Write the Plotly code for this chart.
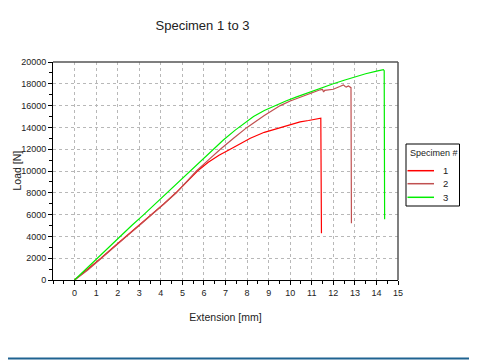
import plotly.graph_objects as go

# Specimen 1 (red)
ext1 = [0, 0.6, 1.22, 1.8, 2.4, 3.0, 3.58, 4.15, 4.7, 5.2, 5.7, 6.2, 6.7, 7.22, 7.7, 8.15, 8.8,
        9.54, 10.0, 10.46, 10.85, 11.23, 11.42, 11.45]
load1 = [0, 950, 2000, 3000, 4000, 5000, 6000, 7000, 8000, 9000, 10000, 10800, 11450, 12000, 12550,
         13000, 13550, 14000, 14280, 14500, 14630, 14750, 14850, 4300]

# Specimen 2 (brownish red)
ext2 = [0, 0.6, 1.24, 1.85, 2.41, 3.0, 3.6, 4.15, 4.72, 5.2, 5.65, 6.2, 6.76, 7.4, 8.0, 8.8, 9.54,
        10.0, 10.5, 10.95, 11.39, 11.5, 11.55, 11.6, 12.0, 12.3, 12.47, 12.55, 12.6, 12.7, 12.78,
        12.82, 12.84]
load2 = [0, 900, 2000, 3000, 4000, 5000, 6000, 7000, 8000, 9000, 10000, 11000, 12000, 13050, 14000,
         15100, 16000, 16420, 16800, 17130, 17450, 17480, 17250, 17400, 17500, 17750, 17900, 17750,
         17700, 17800, 17700, 17650, 5200]

# Specimen 3 (green)
ext3 = [0, 0.5, 1.05, 1.6, 2.1, 2.65, 3.21, 3.75, 4.29, 4.85, 5.4, 5.85, 6.3, 6.9, 7.45, 7.9, 8.3,
        8.8, 9.3, 9.8, 10.3, 10.85, 11.39, 12.0, 12.5, 13.0, 13.5, 14.01, 14.32, 14.36, 14.38]
load3 = [0, 950, 2000, 3050, 4000, 5000, 6000, 7000, 8000, 9050, 10050, 10900, 11750, 12850, 13750,
         14450, 15000, 15550, 16000, 16420, 16800, 17210, 17600, 18000, 18330, 18650, 18920, 19170,
         19300, 19200, 5570]

specimens = ["1", "2", "3"]
colors = ["#ff0000", "#c05050", "#00ee00"]
x_ticks = list(range(0, 16))
y_ticks = list(range(0, 20001, 2000))

fig = go.Figure()
for name, xs, ys, c in zip(specimens, [ext1, ext2, ext3], [load1, load2, load3], colors):
    fig.add_trace(go.Scatter(x=xs, y=ys, mode="lines", name=name,
                             line=dict(color=c, width=1.2), showlegend=False))

font_family = "Liberation Sans, Arial, sans-serif"

# page has an 8px body margin; figure is sized / offset to compensate
fig.update_layout(
    width=469, height=352,
    margin=dict(l=45, r=79, t=54, b=80, autoexpand=False),
    paper_bgcolor="white", plot_bgcolor="white",
    font=dict(family=font_family, size=9, color="#222"),
    title=dict(text="Specimen 1 to 3", x=194.5 / 469, xref="container", xanchor="center",
               y=1 - 17 / 352, yref="container", yanchor="middle",
               font=dict(size=13, color="#222")),
    showlegend=False,
    xaxis=dict(range=[-1, 15], tickmode="array", tickvals=x_ticks,
               ticktext=[str(v) for v in x_ticks], tickfont=dict(size=9),
               showline=True, linecolor="black", linewidth=1,
               ticks="outside", ticklen=4, tickcolor="black",
               showgrid=True, gridcolor="#b8b8b8", griddash="dot", gridwidth=1,
               zeroline=False,
               minor=dict(tickmode="linear", tick0=0, dtick=0.5, ticks="outside",
                          ticklen=3, tickcolor="black", showgrid=False),
               title=dict(text="Extension [mm]", font=dict(size=10.5), standoff=16)),
    yaxis=dict(range=[0, 20000], tickmode="array", tickvals=y_ticks,
               ticktext=[str(v) for v in y_ticks], tickfont=dict(size=9),
               showline=True, linecolor="black", linewidth=1,
               ticks="outside", ticklen=4, tickcolor="black",
               showgrid=True, gridcolor="#b8b8b8", griddash="dot", gridwidth=1,
               zeroline=False,
               minor=dict(tickmode="linear", tick0=0, dtick=1000, ticks="outside",
                          ticklen=3, tickcolor="black", showgrid=False)),
)

def px(xp):
    return (xp - 53) / 345

def py(yp):
    return (280 - yp) / 218

# y-axis title
fig.add_annotation(text="Load [N]", xref="paper", yref="paper", x=px(16.5), y=py(171),
                   xanchor="center", yanchor="middle", textangle=-90, showarrow=False,
                   font=dict(size=10.5, color="#222"))

# frame top and right
fig.add_shape(type="line", xref="paper", yref="paper", x0=0, x1=1, y0=1, y1=1,
              line=dict(color="#555", width=1.5))
fig.add_shape(type="line", xref="paper", yref="paper", x0=1, x1=1, y0=0, y1=1,
              line=dict(color="#555", width=1.5))
# blue bottom rule
fig.add_shape(type="line", xref="paper", yref="paper", x0=-53 / 345, x1=424 / 345,
              y0=py(358.5), y1=py(358.5),
              line=dict(color="#1f6391", width=2))

# legend box drawn manually (compact row spacing as in the reference)
fig.add_shape(type="rect", xref="paper", yref="paper",
              x0=px(406), x1=px(459.5), y0=py(206), y1=py(144),
              line=dict(color="black", width=1), fillcolor="white")
fig.add_annotation(text="Specimen #", xref="paper", yref="paper", x=px(407.5), y=py(153),
                   xanchor="left", yanchor="middle", showarrow=False,
                   font=dict(size=9, color="#222"))
row_y = [170.7, 183.7, 197.3]
for name, c, yy in zip(specimens, colors, row_y):
    fig.add_shape(type="line", xref="paper", yref="paper", x0=px(407.5), x1=px(434),
                  y0=py(yy), y1=py(yy), line=dict(color=c, width=1.5))
    fig.add_annotation(text=name, xref="paper", yref="paper", x=px(445), y=py(yy),
                       xanchor="center", yanchor="middle", showarrow=False,
                       font=dict(size=9.5, color="#222"))

fig.write_html("out.html")
